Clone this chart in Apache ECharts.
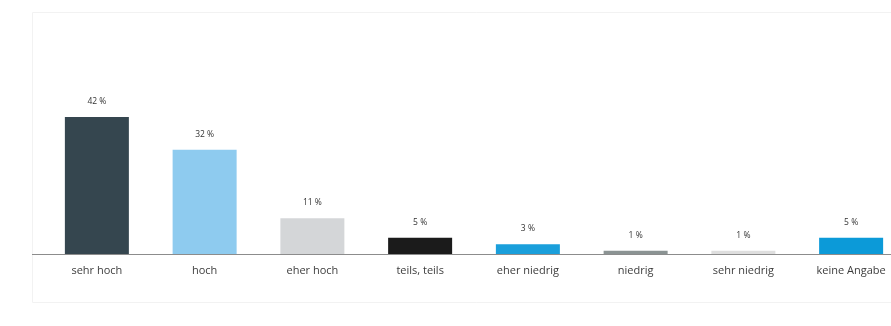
<!DOCTYPE html>
<html>
<head>
<meta charset="utf-8">
<script src="https://cdn.jsdelivr.net/npm/echarts@6/dist/echarts.min.js"></script>
<style>
  html, body { margin: 0; padding: 0; background: #ffffff; overflow: hidden; }
  #chart { width: 920px; height: 326px; }
</style>
</head>
<body>
<div id="chart"></div>
<script>
// Answer categories and their shares in percent
const categories = ['sehr hoch', 'hoch', 'eher hoch', 'teils, teils', 'eher niedrig', 'niedrig', 'sehr niedrig', 'keine Angabe'];
const shares = [42, 32, 11, 5, 3, 1, 1, 5];
const barColors = ['#35464f', '#8ecbef', '#d4d6d8', '#1b1b1b', '#1a9fdb', '#8b9393', '#dedede', '#0c9ad8'];

const chart = echarts.init(document.getElementById('chart'), null, { renderer: 'canvas' });

const baselineY = 254;

chart.setOption({
  animation: false,
  backgroundColor: '#ffffff',
  textStyle: { fontFamily: '"Open Sans", "Noto Sans", sans-serif' },
  graphic: [
    {
      // light panel frame
      type: 'rect',
      shape: { x: 32.5, y: 12.5, width: 900, height: 290 },
      style: { fill: 'none', stroke: '#f2f2f2', lineWidth: 1 },
      z: 0
    },
    {
      // baseline continues to the panel edge
      type: 'line',
      shape: { x1: 32, y1: baselineY + 0.5, x2: 44, y2: baselineY + 0.5 },
      style: { stroke: '#8c8c8c', lineWidth: 1 },
      z: 0
    }
  ],
  grid: { left: 43, top: 91, width: 862, height: 163, containLabel: false },
  xAxis: {
    type: 'category',
    data: categories,
    boundaryGap: true,
    axisLine: { show: true, lineStyle: { color: '#8c8c8c', width: 1 } },
    axisTick: { show: false },
    axisLabel: { color: '#3d3d3d', fontSize: 11, margin: 11, interval: 0 }
  },
  yAxis: {
    type: 'value',
    min: 0,
    max: 50,
    show: false,
    splitLine: { show: false }
  },
  series: [{
    type: 'bar',
    data: shares.map((v, i) => ({ value: v, itemStyle: { color: barColors[i] } })),
    barWidth: 64,
    label: {
      show: true,
      position: 'top',
      distance: 11,
      formatter: '{c} %',
      fontSize: 8.5,
      color: '#333333'
    }
  }]
});
</script>
</body>
</html>
